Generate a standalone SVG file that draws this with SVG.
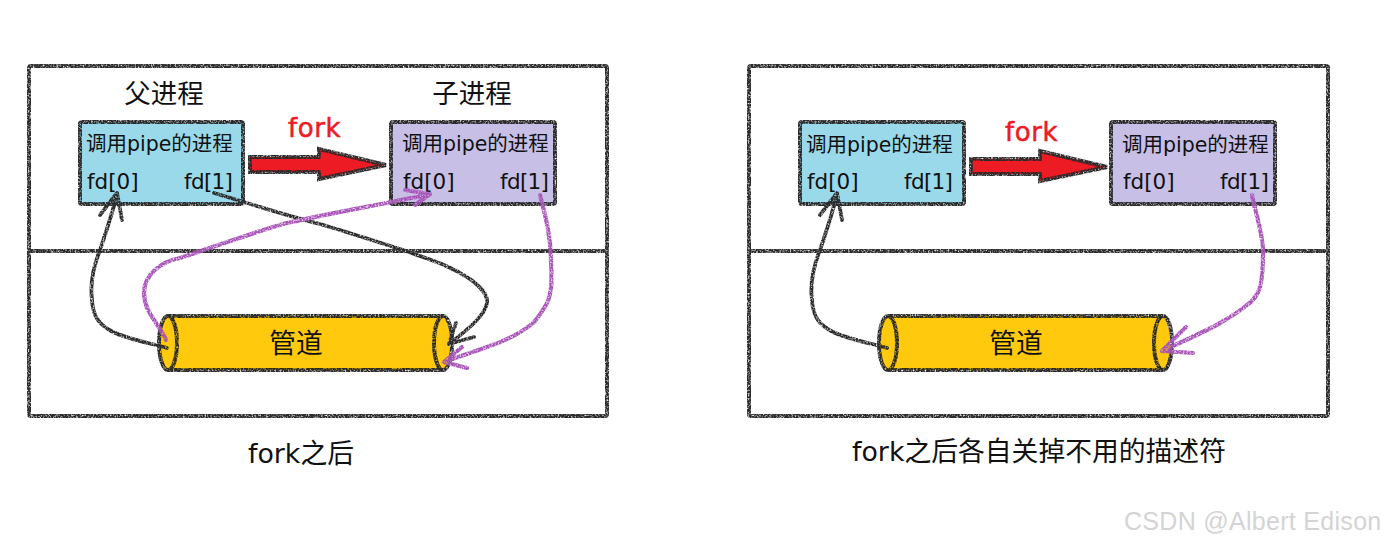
<svg xmlns="http://www.w3.org/2000/svg" width="1384" height="544" viewBox="0 0 1384 544">
<style>
text{font-family:"DejaVu Sans","Noto Sans CJK SC",sans-serif;fill:#111}
.m{text-anchor:middle}
.t{font-size:26.500px}
.c{font-size:26.800px}
.l{font-size:21.500px}
.s{font-size:20.500px}
.f{font-size:26px;fill:#ed1c24;stroke:#ed1c24;stroke-width:.5px;letter-spacing:.6px}
.b{fill:none;stroke:#2a2a2a;stroke-width:4}
.nb{fill:#99d9ea}
.np{fill:#c8bfe7}
.ny{fill:#ffc90e}
.ar{fill:#ed1c24}
.k{fill:none;stroke:#2a2a2a;stroke-width:3.800;stroke-linecap:round;stroke-linejoin:round}
.v{fill:none;stroke:#a853b8;stroke-width:4.200;stroke-linecap:round;stroke-linejoin:round}
.rough{filter:url(#r)}
</style>
<defs>
<filter id="r" filterUnits="userSpaceOnUse" x="0" y="0" width="1384" height="544" color-interpolation-filters="sRGB">
<feTurbulence type="fractalNoise" baseFrequency="0.6" numOctaves="2" seed="3" result="n"/>
<feDisplacementMap in="SourceGraphic" in2="n" scale="1" xChannelSelector="R" yChannelSelector="G" result="d"/>
<feColorMatrix in="n" type="matrix" values="0 0 0 0 0 0 0 0 0 0 0 0 0 0 0 2.400 0 0 0 -0.320" result="mask"/>
<feComposite in="d" in2="mask" operator="in" result="c"/>
<feGaussianBlur in="c" stdDeviation="0.350"/>
</filter>
</defs>
<g id="left-frame" class="rough">
<rect class="b" x="29" y="66" width="578" height="350" rx="2"/>
<path class="b" d="M29 251H607"/>
</g>
<g id="right-frame" class="rough">
<rect class="b" x="749" y="66" width="579" height="350" rx="2"/>
<path class="b" d="M749 251H1328"/>
</g>
<g id="parent-title"><text class="t m" x="164" y="103">父进程</text></g>
<g id="child-title"><text class="t m" x="472" y="103">子进程</text></g>
<g id="parent-left">
<rect class="nb" x="80" y="122" width="163" height="82" rx="2"/>
<rect class="b rough" x="80" y="122" width="163" height="82" rx="2"/>
<text class="s" x="86" y="151">调用pipe的进程</text>
<text class="l" x="87" y="189">fd[0]</text>
<text class="l" x="184" y="189" textLength="49">fd[1]</text>
</g>
<g id="child-left">
<rect class="np" x="391" y="122" width="164" height="82" rx="2"/>
<rect class="b rough" x="391" y="122" width="164" height="82" rx="2"/>
<text class="s" x="402" y="151">调用pipe的进程</text>
<text class="l" x="403" y="189">fd[0]</text>
<text class="l" x="500" y="189" textLength="49">fd[1]</text>
</g>
<g id="pipe-left">
<path class="ny" d="M168 316H443C452 316 452 370 443 370H168Z"/>
<path class="b rough" d="M168 316H443M168 370H443"/>
<ellipse class="ny" cx="168" cy="343" rx="9" ry="27"/>
<ellipse class="b rough" cx="168" cy="343" rx="9" ry="27"/>
<ellipse class="b rough" cx="443" cy="343" rx="9" ry="27"/>
<text class="c m" x="296" y="353">管道</text>
</g>
<g id="fork-left">
<text class="f" x="288" y="137">fork</text>
<path class="ar" d="M250 157H319V149L386 165L319 179V172H250Z"/>
<path class="b rough" d="M250 157H319V149L386 165L319 179V172H250Z"/>
</g>
<g id="parent-right">
<rect class="nb" x="800" y="122" width="164" height="82" rx="2"/>
<rect class="b rough" x="800" y="122" width="164" height="82" rx="2"/>
<text class="s" x="806" y="152">调用pipe的进程</text>
<text class="l" x="807" y="189">fd[0]</text>
<text class="l" x="904" y="189" textLength="49">fd[1]</text>
</g>
<g id="child-right">
<rect class="np" x="1111" y="122" width="164" height="82" rx="2"/>
<rect class="b rough" x="1111" y="122" width="164" height="82" rx="2"/>
<text class="s" x="1122" y="152">调用pipe的进程</text>
<text class="l" x="1123" y="189">fd[0]</text>
<text class="l" x="1220" y="189" textLength="49">fd[1]</text>
</g>
<g id="pipe-right">
<path class="ny" d="M888 316H1163C1172 316 1172 370 1163 370H888Z"/>
<path class="b rough" d="M888 316H1163M888 370H1163"/>
<ellipse class="ny" cx="888" cy="343" rx="9" ry="27"/>
<ellipse class="b rough" cx="888" cy="343" rx="9" ry="27"/>
<ellipse class="b rough" cx="1163" cy="343" rx="9" ry="27"/>
<text class="c m" x="1016" y="353">管道</text>
</g>
<g id="fork-right">
<text class="f" x="1005" y="141">fork</text>
<path class="ar" d="M971 159H1040V151L1107 167L1040 181V174H971Z"/>
<path class="b rough" d="M971 159H1040V151L1107 167L1040 181V174H971Z"/>
</g>
<g id="connectors" class="rough">
<path class="k" d="M167 348C145 342 125 338 113 332C100 325 93 318 92 300C90 285 92 270 100 250C105 235 112 215 117 194M100 215L117 193L122 220"/>
<path class="k" d="M214 193C245 202 280 214 320 224C350 233 375 241 403 250C430 260 450 265 470 279C482 288 488 295 487 303C485 315 470 328 449 344M456 323L449 344L474 337"/>
<path class="v" d="M166 340C158 322 144 312 144 293C144 275 160 262 180 258C220 245 260 230 287 223C330 213 390 203 430 194M405 190L430 194L415 205"/>
<path class="v" d="M540 195C545 215 551 235 551 262C552 280 552 292 547 303C542 312 538 318 533 323C520 334 505 341 487 347C470 353 455 358 444 362M462 347L444 362L467 368"/>
<path class="k" d="M887 348C865 342 845 338 833 332C820 325 813 318 812 300C810 285 812 270 820 250C825 235 832 215 837 194M820 215L837 193L842 220"/>
<path class="v" d="M1252 195C1256 215 1263 235 1263 251C1263 270 1262 285 1258 292C1255 298 1252 302 1247 305C1235 315 1225 320 1213 327C1195 336 1180 343 1162 351M1186 327L1162 351L1193 353"/>
</g>
<g id="caption-left"><text class="c m" x="301" y="463">fork之后</text></g>
<g id="caption-right"><text class="c m" x="1039" y="461">fork之后各自关掉不用的描述符</text></g>
<g id="watermark"><text x="1124" y="530" style="font-family:'Liberation Sans',sans-serif;font-size:25px;letter-spacing:.3px;fill:#d4d4d4">CSDN @Albert Edison</text></g>
</svg>
